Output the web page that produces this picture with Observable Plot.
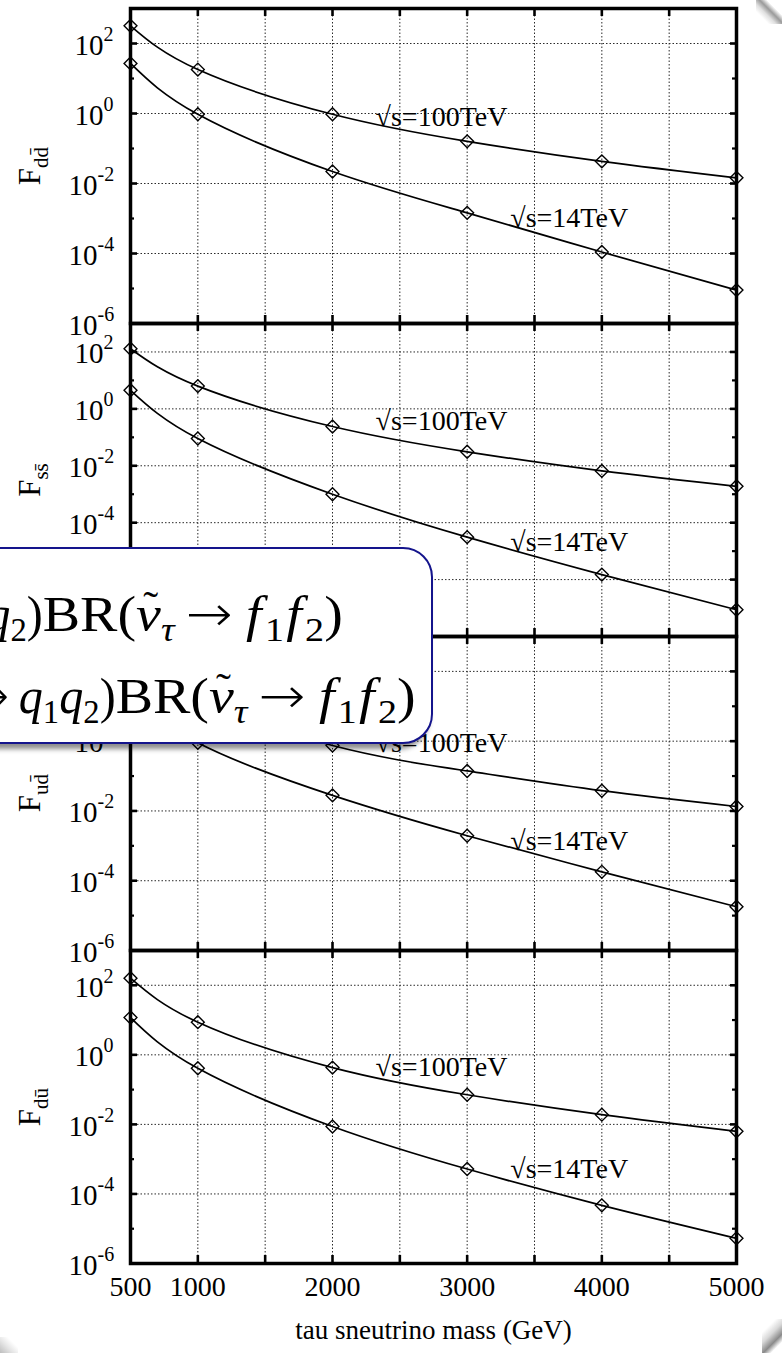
<!DOCTYPE html>
<html>
<head>
<meta charset="utf-8">
<script src="https://cdn.jsdelivr.net/npm/d3@7"></script>
<script src="https://cdn.jsdelivr.net/npm/@observablehq/plot@0.6"></script>
<style>
  html, body { margin: 0; padding: 0; background: #fff; }
  #page { position: relative; width: 782px; height: 1353px; overflow: hidden; background: #fff;
          font-family: "Liberation Serif", "Times New Roman", serif; color: #000; }
  .panel { position: absolute; left: 0; }
  .ylab { position: absolute; left: 33px; font-size: 31px; line-height: 1; white-space: nowrap;
          transform: translate(-50%, -50%) rotate(-90deg); }
  .ylab sub { font-size: 21px; vertical-align: -0.35em; }
  .formula-box { position: absolute; left: -80px; top: 547px; width: 509px; height: 193px;
                 border: 2px solid #14148c; border-radius: 30px; background: #fff;
                 box-shadow: -4px 5px 5px rgba(0,0,0,0.45); z-index: 5; }
  .formula { position: absolute; font-size: 50px; line-height: 50px; white-space: nowrap; z-index: 6;
             transform-origin: right center; }
  .formula i { font-style: italic; }
  .formula i.f { margin: 0 0.06em 0 0.04em; }
  .formula sub { font-size: 34px; vertical-align: -0.3em; line-height: 0; }
  .formula .arr { font-family: "DejaVu Sans", sans-serif; font-weight: 200; margin: 0 0.2em; }
  .formula .head { display: inline-block; transform: scaleX(0.86); transform-origin: right center; }
  .formula .nu { position: relative; display: inline-block; }
  .formula .tilde { position: absolute; left: 0.16em; top: -0.2em; font-size: 0.8em; font-style: normal; }
  .corner { position: absolute; z-index: 7; pointer-events: none; }
</style>
</head>
<body>
<div id="page"></div>
<script>
// Tau sneutrino mass points (GeV)
const masses = [500, 1000, 2000, 3000, 4000, 5000];
const energies = ["100TeV", "14TeV"];

// F for each quark channel, at sqrt(s) = 100 TeV and 14 TeV
const F_dd_100 = [320, 18, 0.95, 0.16, 0.043, 0.0145];
const F_dd_14  = [27, 0.95, 0.022, 0.00145, 0.00011, 0.000009];
const F_ss_100 = [130, 6.3, 0.24, 0.031, 0.0066, 0.0019];
const F_ss_14  = [4.5, 0.091, 0.001, 0.000031, 0.0000015, 0.000000087];
const F_ud_100 = [300, 17, 0.75, 0.14, 0.038, 0.0134];
const F_ud_14  = [28, 0.9, 0.028, 0.00195, 0.00018, 0.000018];
const F_du_100 = [160, 8.7, 0.43, 0.071, 0.019, 0.0063];
const F_du_14  = [11.8, 0.41, 0.0087, 0.00052, 0.000047, 0.0000053];

// Channel subscripts used in the y labels
const channels = ["dd̄", "ss̄", "ud̄", "dū"];
const series = [[F_dd_100, F_dd_14], [F_ss_100, F_ss_14], [F_ud_100, F_ud_14], [F_du_100, F_du_14]];

// y extents of each panel
const yDomains = [[1e-6, 1e3], [1e-8, 1e3], [1e-6, 1e3], [1e-6, 1e3]];

// x ticks
const xTickLabels = [500, 1000, 2000, 3000, 4000, 5000];
const xGrid = [1000, 1500, 2000, 2500, 3000, 3500, 4000, 4500];

// Energy labels: mass where the text starts, and F where it sits in each panel
const labelMass = [2320, 3320];
const labelF_100 = [0.8, 0.36, 0.9, 0.44];
const labelF_14 = [0.001, 0.000021, 0.0014, 0.00053];

// Layout of the stacked panels (pixels)
const W = 782, ML = 130, MR = 46, PAD = 14;
const panelTop = [8, 323, 636, 950];
const panelBottom = [323, 636, 950, 1263];
const plotW = W - ML - MR;
const serif = "Liberation Serif, Times New Roman, serif";
const gridStyle = {stroke: "#2a2a2a", strokeWidth: 1, strokeDasharray: "1.5,2"};

const page = document.getElementById("page");

function panel(i) {
  const [lo, hi] = yDomains[i];
  const plotH = panelBottom[i] - panelTop[i];
  const last = i === series.length - 1;
  const mb = last ? 100 : PAD;
  const eLo = Math.round(Math.log10(lo)), eHi = Math.round(Math.log10(hi));
  const exps = d3.range(eLo, eHi + 1);
  const major = exps.filter(e => (e - eLo) % 2 === 0);
  const minor = exps.filter(e => (e - eLo) % 2 === 1 && e < eHi);
  const majorV = major.map(e => Math.pow(10, e));
  const minorV = minor.map(e => Math.pow(10, e));
  const posLab = major.filter(e => e >= 0).map(e => ({v: Math.pow(10, e), e: String(e)}));
  const negLab = major.filter(e => e < 0).map(e => ({v: Math.pow(10, e), e: String(e)}));

  const rows = [];
  series[i].forEach((vals, k) => vals.forEach((v, j) => rows.push({m: masses[j], F: v, s: energies[k]})));
  const labels = [
    {m: labelMass[0], F: labelF_100[i], t: "√s=" + energies[0]},
    {m: labelMass[1], F: labelF_14[i], t: "√s=" + energies[1]}
  ];

  const marks = [
    Plot.ruleX(xGrid, {x: d => d, ...gridStyle}),
    Plot.ruleY(majorV.filter(v => v > lo), {y: d => d, ...gridStyle}),
    Plot.text(labels, {x: "m", y: "F", text: "t", textAnchor: "start", fontSize: 28, fontFamily: serif, fill: "black"}),
    Plot.line(rows, {x: "m", y: "F", z: "s", curve: "natural", stroke: "black", strokeWidth: 1.7}),
    Plot.dot(rows, {x: "m", y: "F", symbol: "diamond2", r: 5.8, stroke: "black", strokeWidth: 1.4, fill: "none"}),
    // inward ticks on all four sides
    Plot.tickY(majorV, {y: d => d, insetRight: plotW - 7, strokeWidth: 2.6}),
    Plot.tickY(majorV, {y: d => d, insetLeft: plotW - 6, strokeWidth: 2.6}),
    Plot.tickY(minorV, {y: d => d, insetRight: plotW - 4, strokeWidth: 2.2}),
    Plot.tickY(minorV, {y: d => d, insetLeft: plotW - 4, strokeWidth: 2.2}),
    Plot.tickX(xGrid, {x: d => d, insetBottom: plotH - 8, strokeWidth: 2.6}),
    Plot.tickX(xGrid, {x: d => d, insetTop: plotH - 8, strokeWidth: 2.6}),
    Plot.frame({stroke: "black", strokeWidth: 3.5}),
    // y tick labels: 10 with a raised exponent
    Plot.text(posLab, {y: "v", text: () => "10", frameAnchor: "left", textAnchor: "end", dx: -27, dy: 2, fontSize: 29, fontFamily: serif}),
    Plot.text(posLab, {y: "v", text: "e", frameAnchor: "left", textAnchor: "start", dx: -27, dy: -9, fontSize: 20, fontFamily: serif}),
    Plot.text(negLab, {y: "v", text: () => "10", frameAnchor: "left", textAnchor: "end", dx: -33, dy: 2, fontSize: 29, fontFamily: serif}),
    Plot.text(negLab, {y: "v", text: "e", frameAnchor: "left", textAnchor: "start", dx: -33, dy: -9, fontSize: 20, fontFamily: serif})
  ];
  if (last) {
    marks.push(
      Plot.text(xTickLabels, {x: d => d, text: d => String(d), frameAnchor: "bottom", dy: 32, fontSize: 28, fontFamily: serif}),
      Plot.text(["tau sneutrino mass (GeV)"], {frameAnchor: "bottom", dy: 75, fontSize: 27, fontFamily: serif})
    );
  }

  const svg = Plot.plot({
    width: W,
    height: PAD + plotH + mb,
    marginLeft: ML, marginRight: MR, marginTop: PAD, marginBottom: mb,
    x: {domain: [500, 5000], axis: null},
    y: {type: "log", domain: [lo, hi], axis: null},
    style: {background: "transparent", overflow: "visible", fontFamily: serif, color: "black"},
    marks
  });
  svg.classList.add("panel");
  svg.style.top = (panelTop[i] - PAD) + "px";
  page.appendChild(svg);

  const yl = document.createElement("div");
  yl.className = "ylab";
  yl.style.top = ((panelTop[i] + panelBottom[i]) / 2) + "px";
  yl.innerHTML = "F<sub>" + channels[i] + "</sub>";
  page.appendChild(yl);
}

series.forEach((_, i) => panel(i));

// Formula call-out laid over the middle panels
const box = document.createElement("div");
box.className = "formula-box";
page.appendChild(box);

const tail = "BR(<span class=\"nu\"><i>ν</i><span class=\"tilde\">˜</span></span><sub><i>τ</i></sub>" +
             "<span class=\"arr\">→</span><i class=\"f\">f</i><sub>1</sub><i class=\"f\">f</i><sub>2</sub>)";
const formulaLines = [
  {head: "<i>q</i><sub>1</sub><i>q</i><sub>2</sub>)", right: 343, top: 589},
  {head: "<span class=\"arr\">→</span><i>q</i><sub>1</sub><i>q</i><sub>2</sub>)", right: 416, top: 671}
];
for (const ln of formulaLines) {
  const el = document.createElement("div");
  el.className = "formula";
  el.style.right = (W - ln.right) + "px";
  el.style.top = ln.top + "px";
  el.innerHTML = "<span class=\"head\">" + ln.head + "</span><span class=\"tail\">" + tail + "</span>";
  page.appendChild(el);
  // widen the typeset line so that "BR(...)" spans 300px
  const tw = el.querySelector(".tail").getBoundingClientRect().width;
  el.style.transform = "scaleX(" + (300 / tw) + ")";
}

// page-curl shading at the corners
const corners = [
  {right: "0px", top: "0px", w: 26, h: 24, bg: "linear-gradient(225deg, #fff 0%, #fff 30%, #9a9a9a 45%, #e0e0e0 60%, rgba(255,255,255,0) 75%)"},
  {right: "0px", bottom: "0px", w: 20, h: 34, bg: "linear-gradient(315deg, #fff 0%, #fff 20%, #8a8a8a 35%, #d8d8d8 55%, rgba(255,255,255,0) 75%)"},
  {left: "0px", bottom: "0px", w: 18, h: 16, bg: "linear-gradient(45deg, #bdbdbd 0%, #e6e6e6 40%, rgba(255,255,255,0) 70%)"}
];
for (const c of corners) {
  const d = document.createElement("div");
  d.className = "corner";
  Object.assign(d.style, {width: c.w + "px", height: c.h + "px", background: c.bg});
  for (const k of ["left", "right", "top", "bottom"]) if (c[k]) d.style[k] = c[k];
  page.appendChild(d);
}
</script>
</body>
</html>
